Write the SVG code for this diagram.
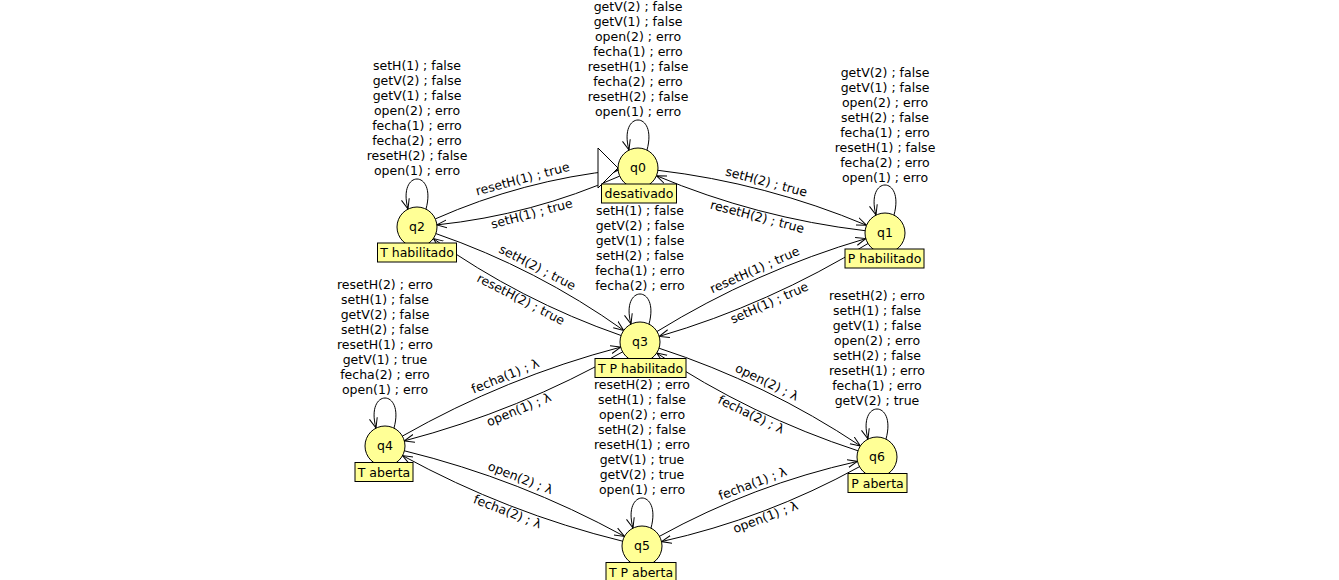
<svg xmlns="http://www.w3.org/2000/svg" width="1339" height="580" viewBox="0 0 1339 580">
<style>
text{font-family:"DejaVu Sans","Liberation Sans",sans-serif;font-size:12.5px;fill:#000}
.t{text-anchor:middle}
.e path{fill:none;stroke:#000;stroke-width:1;marker-end:url(#arr)}
.n circle{fill:#ffff96;stroke:#000;stroke-width:1}
.n rect{fill:#ffff96;stroke:#000;stroke-width:1}
</style>
<defs>
<marker id="arr" markerUnits="userSpaceOnUse" markerWidth="12" markerHeight="12" viewBox="0 0 12 10" refX="10" refY="5" orient="auto">
<path d="M0,1 L10,5 L0,9" fill="none" stroke="#000" stroke-width="1"/>
</marker>
</defs>
<rect width="1339" height="580" fill="#fff"/>
<g id="connectors" class="e">
<path d="M435.3,218.9 Q522.9,180.1 618.1,170.1"/>
<path d="M619.7,176.1 Q532.1,214.9 436.9,224.9"/>
<path d="M657.9,170.3 Q766.1,183.1 866.6,225.3"/>
<path d="M865.1,230.7 Q756.9,217.9 656.4,175.7"/>
<path d="M435.9,233.6 Q536.8,268.5 623.7,330.4"/>
<path d="M621.1,335.5 Q520.3,300.5 433.3,238.6"/>
<path d="M657.0,331.5 Q755.2,271.1 865.8,238.6"/>
<path d="M868.0,243.5 Q769.8,304.0 659.2,336.4"/>
<path d="M402.4,436.1 Q505.7,377.3 620.7,347.1"/>
<path d="M622.6,351.9 Q519.3,410.7 404.3,440.9"/>
<path d="M659.0,348.2 Q766.4,383.3 860.4,445.9"/>
<path d="M858.0,450.8 Q750.6,415.7 656.7,353.1"/>
<path d="M404.4,450.8 Q520.0,479.2 624.5,536.4"/>
<path d="M622.6,541.2 Q507.0,512.8 402.5,455.6"/>
<path d="M659.5,536.3 Q753.1,484.7 857.5,461.4"/>
<path d="M859.5,466.7 Q765.9,518.3 661.5,541.6"/>
<path d="M647,150 C658,110 618,110 629,150"/>
<path d="M426,209 C437,169 397,169 408,209"/>
<path d="M894,215 C905,175 865,175 876,215"/>
<path d="M649,324 C660,284 620,284 631,324"/>
<path d="M394,428 C405,388 365,388 376,428"/>
<path d="M651,528 C662,488 622,488 633,528"/>
<path d="M886,439 C897,399 857,399 868,439"/>
<g class="t">
<text transform="translate(522.9,180.1) rotate(-14.95)" y="3">resetH(1) ; true</text>
<text transform="translate(532.1,214.9) rotate(-14.95)" y="3">setH(1) ; true</text>
<text transform="translate(766.1,183.1) rotate(14.74)" y="3">setH(2) ; true</text>
<text transform="translate(756.9,217.9) rotate(14.74)" y="3">resetH(2) ; true</text>
<text transform="translate(536.8,268.5) rotate(27.28)" y="3">setH(2) ; true</text>
<text transform="translate(520.3,300.5) rotate(27.28)" y="3">resetH(2) ; true</text>
<text transform="translate(755.2,271.1) rotate(-23.99)" y="3">resetH(1) ; true</text>
<text transform="translate(769.8,304.0) rotate(-23.99)" y="3">setH(1) ; true</text>
<text transform="translate(505.7,377.3) rotate(-22.19)" y="3">fecha(1) ; λ</text>
<text transform="translate(519.3,410.7) rotate(-22.19)" y="3">open(1) ; λ</text>
<text transform="translate(766.4,383.3) rotate(25.88)" y="3">open(2) ; λ</text>
<text transform="translate(750.6,415.7) rotate(25.88)" y="3">fecha(2) ; λ</text>
<text transform="translate(520.0,479.2) rotate(21.26)" y="3">open(2) ; λ</text>
<text transform="translate(507.0,512.8) rotate(21.26)" y="3">fecha(2) ; λ</text>
<text transform="translate(753.1,484.7) rotate(-20.74)" y="3">fecha(1) ; λ</text>
<text transform="translate(765.9,518.3) rotate(-20.74)" y="3">open(1) ; λ</text>
<text x="638" y="11">getV(2) ; false<tspan x="638" dy="15">getV(1) ; false</tspan><tspan x="638" dy="15">open(2) ; erro</tspan><tspan x="638" dy="15">fecha(1) ; erro</tspan><tspan x="638" dy="15">resetH(1) ; false</tspan><tspan x="638" dy="15">fecha(2) ; erro</tspan><tspan x="638" dy="15">resetH(2) ; false</tspan><tspan x="638" dy="15">open(1) ; erro</tspan></text>
<text x="417" y="70">setH(1) ; false<tspan x="417" dy="15">getV(2) ; false</tspan><tspan x="417" dy="15">getV(1) ; false</tspan><tspan x="417" dy="15">open(2) ; erro</tspan><tspan x="417" dy="15">fecha(1) ; erro</tspan><tspan x="417" dy="15">fecha(2) ; erro</tspan><tspan x="417" dy="15">resetH(2) ; false</tspan><tspan x="417" dy="15">open(1) ; erro</tspan></text>
<text x="885" y="77">getV(2) ; false<tspan x="885" dy="15">getV(1) ; false</tspan><tspan x="885" dy="15">open(2) ; erro</tspan><tspan x="885" dy="15">setH(2) ; false</tspan><tspan x="885" dy="15">fecha(1) ; erro</tspan><tspan x="885" dy="15">resetH(1) ; false</tspan><tspan x="885" dy="15">fecha(2) ; erro</tspan><tspan x="885" dy="15">open(1) ; erro</tspan></text>
<text x="640" y="215">setH(1) ; false<tspan x="640" dy="15">getV(2) ; false</tspan><tspan x="640" dy="15">getV(1) ; false</tspan><tspan x="640" dy="15">setH(2) ; false</tspan><tspan x="640" dy="15">fecha(1) ; erro</tspan><tspan x="640" dy="15">fecha(2) ; erro</tspan></text>
<text x="385" y="289">resetH(2) ; erro<tspan x="385" dy="15">setH(1) ; false</tspan><tspan x="385" dy="15">getV(2) ; false</tspan><tspan x="385" dy="15">setH(2) ; false</tspan><tspan x="385" dy="15">resetH(1) ; erro</tspan><tspan x="385" dy="15">getV(1) ; true</tspan><tspan x="385" dy="15">fecha(2) ; erro</tspan><tspan x="385" dy="15">open(1) ; erro</tspan></text>
<text x="642" y="389">resetH(2) ; erro<tspan x="642" dy="15">setH(1) ; false</tspan><tspan x="642" dy="15">open(2) ; erro</tspan><tspan x="642" dy="15">setH(2) ; false</tspan><tspan x="642" dy="15">resetH(1) ; erro</tspan><tspan x="642" dy="15">getV(1) ; true</tspan><tspan x="642" dy="15">getV(2) ; true</tspan><tspan x="642" dy="15">open(1) ; erro</tspan></text>
<text x="877" y="300">resetH(2) ; erro<tspan x="877" dy="15">setH(1) ; false</tspan><tspan x="877" dy="15">getV(1) ; false</tspan><tspan x="877" dy="15">open(2) ; erro</tspan><tspan x="877" dy="15">setH(2) ; false</tspan><tspan x="877" dy="15">resetH(1) ; erro</tspan><tspan x="877" dy="15">fecha(1) ; erro</tspan><tspan x="877" dy="15">getV(2) ; true</tspan></text>
</g>
</g>
<polygon id="initial" points="598,148 618,168 598,188" fill="#fff" stroke="#000"/>
<g id="q0" class="n"><circle cx="638" cy="168" r="20"/><text class="t" x="638" y="172">q0</text><rect x="601.5" y="184" width="75" height="19"/><text class="t" x="639" y="198">desativado</text></g>
<g id="q1" class="n"><circle cx="885" cy="233" r="20"/><text class="t" x="885" y="237">q1</text><rect x="845" y="249" width="79" height="19"/><text class="t" x="884.5" y="263">P habilitado</text></g>
<g id="q2" class="n"><circle cx="417" cy="227" r="20"/><text class="t" x="417" y="231">q2</text><rect x="377.5" y="243" width="79" height="19"/><text class="t" x="417" y="257">T habilitado</text></g>
<g id="q3" class="n"><circle cx="640" cy="342" r="20"/><text class="t" x="640" y="346">q3</text><rect x="595" y="358.5" width="91" height="19"/><text class="t" x="640.5" y="372.5">T P habilitado</text></g>
<g id="q4" class="n"><circle cx="385" cy="446" r="20"/><text class="t" x="385" y="450">q4</text><rect x="355" y="462.5" width="58" height="19"/><text class="t" x="384" y="476.5">T aberta</text></g>
<g id="q5" class="n"><circle cx="642" cy="546" r="20"/><text class="t" x="642" y="550">q5</text><rect x="606" y="562.5" width="70" height="19"/><text class="t" x="641" y="576.5">T P aberta</text></g>
<g id="q6" class="n"><circle cx="877" cy="457" r="20"/><text class="t" x="877" y="461">q6</text><rect x="848" y="473.5" width="59" height="19"/><text class="t" x="877.5" y="487.5">P aberta</text></g>
</svg>
